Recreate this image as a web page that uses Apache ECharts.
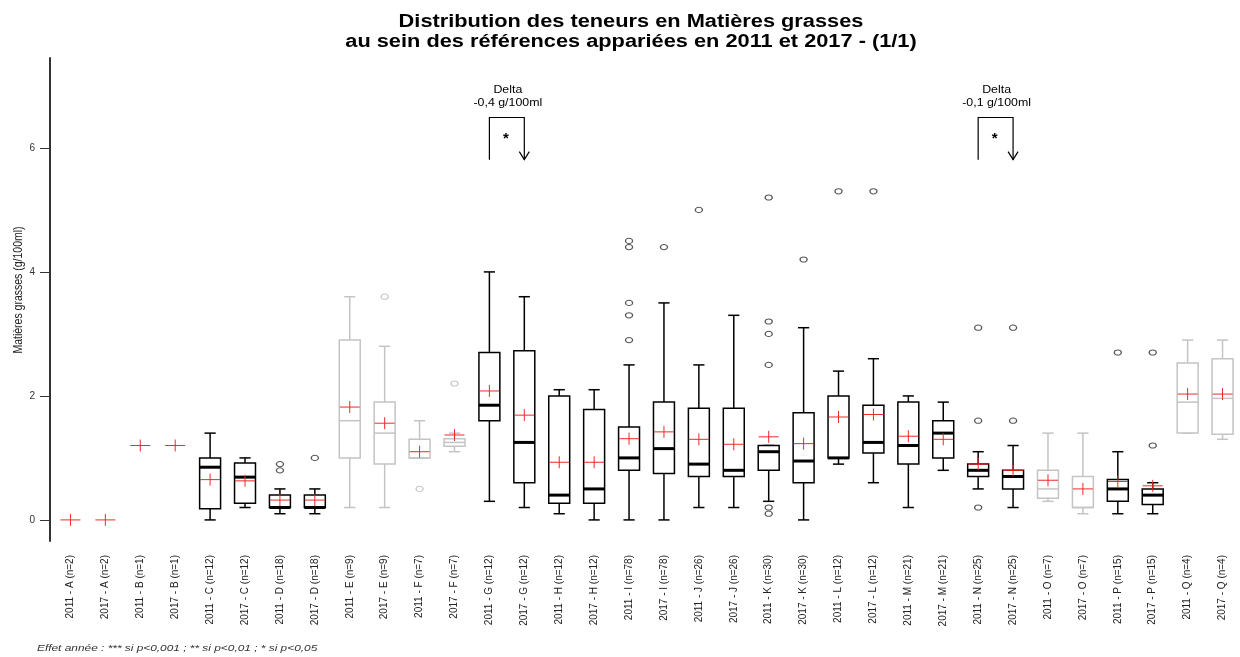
<!DOCTYPE html>
<html>
<head>
<meta charset="utf-8">
<script src="https://cdn.jsdelivr.net/npm/echarts@6/dist/echarts.min.js"></script>
<style>
html,body{margin:0;padding:0;background:#fff;}
#chart{width:1240px;height:657px;}
</style>
</head>
<body>
<div id="chart"></div>
<script>
// ---------- DATA ----------
const categories = [
  '2011 - A (n=2)','2017 - A (n=2)','2011 - B (n=1)','2017 - B (n=1)',
  '2011 - C (n=12)','2017 - C (n=12)','2011 - D (n=18)','2017 - D (n=18)',
  '2011 - E (n=9)','2017 - E (n=9)','2011 - F (n=7)','2017 - F (n=7)',
  '2011 - G (n=12)','2017 - G (n=12)','2011 - H (n=12)','2017 - H (n=12)',
  '2011 - I (n=78)','2017 - I (n=78)','2011 - J (n=26)','2017 - J (n=26)',
  '2011 - K (n=30)','2017 - K (n=30)','2011 - L (n=12)','2017 - L (n=12)',
  '2011 - M (n=21)','2017 - M (n=21)','2011 - N (n=25)','2017 - N (n=25)',
  '2011 - O (n=7)','2017 - O (n=7)','2011 - P (n=15)','2017 - P (n=15)',
  '2011 - Q (n=4)','2017 - Q (n=4)'
];
const whiskerLow = [null,null,null,null, 0,0.2, 0.1,0.1, 0.2,0.2, 1.0,1.1, 0.3,0.2, 0.1,0, 0,0, 0.2,0.2, 0.3,0, 0.9,0.6, 0.2,0.8, 0.5,0.2, 0.3,0.1, 0.1,0.1, 1.4,1.3];
const q1         = [null,null,null,null, 0.18,0.27, 0.2,0.2, 1.0,0.9, 1.0,1.19, 1.6,0.6, 0.27,0.27, 0.8,0.75, 0.7,0.7, 0.8,0.6, 1.0,1.08, 0.9,1.0, 0.7,0.5, 0.35,0.2, 0.3,0.25, 1.4,1.38];
const median     = [null,null,null,null, 0.85,0.69, 0.2,0.2, 1.6,1.4, 1.0,1.25, 1.85,1.25, 0.4,0.5, 1.0,1.15, 0.9,0.8, 1.1,0.95, 1.0,1.25, 1.2,1.4, 0.8,0.7, 0.5,0.2, 0.5,0.4, 1.9,1.96];
const q3         = [null,null,null,null, 1.0,0.92, 0.4,0.4, 2.9,1.9, 1.3,1.31, 2.7,2.73, 2.0,1.78, 1.5,1.9, 1.8,1.8, 1.2,1.73, 2.0,1.85, 1.9,1.6, 0.9,0.8, 0.8,0.7, 0.65,0.5, 2.53,2.6];
const whiskerHigh= [null,null,null,null, 1.4,1.0, 0.5,0.5, 3.6,2.8, 1.6,1.4, 4.0,3.6, 2.1,2.1, 2.5,3.5, 2.5,3.3, 1.2,3.1, 2.4,2.6, 2.0,1.9, 1.1,1.2, 1.4,1.4, 1.1,0.6, 2.9,2.9];
const means      = [0,0,1.2,1.2, 0.65,0.63, 0.32,0.32, 1.82,1.56, 1.1,1.37, 2.08,1.69, 0.93,0.93, 1.31,1.42, 1.3,1.22, 1.34,1.23, 1.66,1.70, 1.35,1.30, 0.9,0.8, 0.64,0.5, 0.62,0.55, 2.03,2.03];
// outliers: [category index, value]
const outliers = [
  [6,0.8],[6,0.9],[7,1.0],[9,3.6],[10,0.5],[11,2.2],
  [16,4.5],[16,4.4],[16,3.5],[16,3.3],[16,2.9],[17,4.4],[18,5.0],
  [20,5.2],[20,3.2],[20,3.0],[20,2.5],[20,0.2],[20,0.1],[21,4.2],
  [22,5.3],[23,5.3],[26,3.1],[26,1.6],[26,0.2],[27,3.1],[27,1.6],
  [30,2.7],[31,2.7],[31,1.2]
];
// non-significant (grey) categories
const greyIndex = [8,9,10,11,28,29,32,33];
// year-effect annotations: [index 2011, index 2017]
const deltaPairs = [[12,13],[26,27]];
const deltaLabels = ['-0,4 g/100ml','-0,1 g/100ml'];
const deltaSignif = ['*','*'];
const yTicks = [0,2,4,6];

// ---------- CHART ----------
const chart = echarts.init(document.getElementById('chart'), null, {renderer:'canvas'});
const FONT = "'Liberation Sans', Arial, Helvetica, sans-serif";

const boxData = [];
categories.forEach((c,i)=>{
  if (whiskerLow[i] !== null) boxData.push([i, whiskerLow[i], q1[i], median[i], q3[i], whiskerHigh[i]]);
});
const meanData = means.map((m,i)=>[i,m]);

function isGrey(i){ return greyIndex.indexOf(i) >= 0; }

function renderBox(params, api){
  const i = api.value(0);
  const lo = api.coord([i, api.value(1)]);
  const b1 = api.coord([i, api.value(2)]);
  const md = api.coord([i, api.value(3)]);
  const b3 = api.coord([i, api.value(4)]);
  const hi = api.coord([i, api.value(5)]);
  const band = api.size([1,0])[0];
  const x = lo[0];
  const hw = band*0.3;
  const cw = band*0.16;
  const col = isGrey(i) ? '#c4c4c4' : '#000';
  const lw = 1.5;
  const st = {stroke: col, lineWidth: lw, fill: null};
  return {type:'group', children:[
    {type:'line', shape:{x1:x,y1:hi[1],x2:x,y2:b3[1]}, style:st},
    {type:'line', shape:{x1:x,y1:b1[1],x2:x,y2:lo[1]}, style:st},
    {type:'line', shape:{x1:x-cw,y1:hi[1],x2:x+cw,y2:hi[1]}, style:st},
    {type:'line', shape:{x1:x-cw,y1:lo[1],x2:x+cw,y2:lo[1]}, style:st},
    {type:'rect', shape:{x:x-hw,y:b3[1],width:2*hw,height:b1[1]-b3[1]}, style:{stroke:col,lineWidth:lw,fill:'#fff'}},
    {type:'line', shape:{x1:x-hw,y1:md[1],x2:x+hw,y2:md[1]}, style:{stroke:col,lineWidth:isGrey(i)?1.5:3}}
  ]};
}

function renderOutlier(params, api){
  const i = api.value(0);
  const p = api.coord([i, api.value(1)]);
  return {type:'circle', x:p[0], y:p[1], scaleX:1.35, scaleY:1,
    shape:{cx:0, cy:0, r:2.6},
    style:{stroke: isGrey(i) ? '#c4c4c4' : '#555', lineWidth:1, fill:null}};
}

function renderMean(params, api){
  const p = api.coord([api.value(0), api.value(1)]);
  const st = {stroke:'#f02828', lineWidth:1};
  return {type:'group', children:[
    {type:'line', shape:{x1:p[0]-10,y1:p[1],x2:p[0]+10,y2:p[1]}, style:st},
    {type:'line', shape:{x1:p[0],y1:p[1]-6,x2:p[0],y2:p[1]+6}, style:st}
  ]};
}

function renderDelta(params, api){
  const k = params.dataIndex;
  const a = api.coord([api.value(0), 6.49]);
  const b = api.coord([api.value(1), 5.81]);
  const xa = a[0], xb = b[0], yt = a[1], yb = b[1];
  const mid = (xa+xb)/2;
  const t1 = api.coord([api.value(0), 6.93])[1];
  const t2 = api.coord([api.value(0), 6.73])[1];
  const ts = api.coord([api.value(0), 6.20])[1];
  const st = {stroke:'#000', lineWidth:1.2, fill:null};
  return {type:'group', children:[
    {type:'polyline', shape:{points:[[xa,yb],[xa,yt],[xb,yt],[xb,yb]]}, style:st},
    {type:'polyline', shape:{points:[[xb-5,yb-8],[xb,yb],[xb+5,yb-8]]}, style:st},
    {type:'text', x:mid+1, y:t1, scaleX:1.18, style:{text:'Delta', x:0, y:0, align:'center', verticalAlign:'middle', font:'10.5px '+FONT, fill:'#000'}},
    {type:'text', x:mid+1, y:t2, scaleX:1.18, style:{text:deltaLabels[k], x:0, y:0, align:'center', verticalAlign:'middle', font:'10.5px '+FONT, fill:'#000'}},
    {type:'text', x:mid-1, y:ts+3, style:{text:deltaSignif[k], x:0, y:0, align:'center', verticalAlign:'middle', font:'bold 15px '+FONT, fill:'#000'}}
  ]};
}

const option = {
  animation:false,
  backgroundColor:'#fff',
  grid:{left:53, right:-9, top:58, bottom:116, containLabel:false},
  xAxis:{
    type:'category', data:categories, boundaryGap:true,
    axisLine:{show:false}, axisTick:{show:false}, splitLine:{show:false},
    axisLabel:{rotate:90, interval:0, margin:14, fontSize:10, fontFamily:FONT, color:'#222'}
  },
  yAxis:{
    type:'value', min:-0.34, max:7.45, offset:3,
    axisLine:{show:true, lineStyle:{color:'#333', width:2}},
    axisTick:{show:true, length:10, customValues:yTicks, lineStyle:{color:'#333'}},
    axisLabel:{customValues:yTicks, fontSize:10, fontFamily:FONT, color:'#333', margin:15},
    splitLine:{show:false}
  },
  graphic:[
    {type:'text', x:631, y:12, scaleX:1.21, silent:true, style:{
      text:'Distribution des teneurs en Matières grasses\nau sein des références appariées en 2011 et 2017 - (1/1)',
      x:0, y:0, align:'center', verticalAlign:'top', font:'bold 18px '+FONT, lineHeight:20, fill:'#000'}},
    {type:'text', x:19, y:290, rotation:Math.PI/2, scaleY:1.15, silent:true, style:{
      text:'Matières grasses (g/100ml)', x:0, y:0, align:'center', verticalAlign:'middle',
      font:'10.5px '+FONT, fill:'#222'}},
    {type:'text', x:37, y:648, scaleX:1.25, silent:true, style:{
      text:'Effet année : *** si p<0,001 ; ** si p<0,01 ; * si p<0,05',
      x:0, y:0, align:'left', verticalAlign:'middle', font:'italic 9.5px '+FONT, fill:'#333'}}
  ],
  series:[
    {type:'custom', name:'box', data:boxData, renderItem:renderBox, encode:{x:0, y:[1,2,3,4,5]}, z:2},
    {type:'custom', name:'outliers', data:outliers, renderItem:renderOutlier, encode:{x:0, y:1}, z:3},
    {type:'custom', name:'mean', data:meanData, renderItem:renderMean, encode:{x:0,y:1}, z:4},
    {type:'custom', name:'delta', data:deltaPairs, renderItem:renderDelta, encode:{x:[0,1]}, z:5, clip:false}
  ]
};
chart.setOption(option);
</script>
</body>
</html>
